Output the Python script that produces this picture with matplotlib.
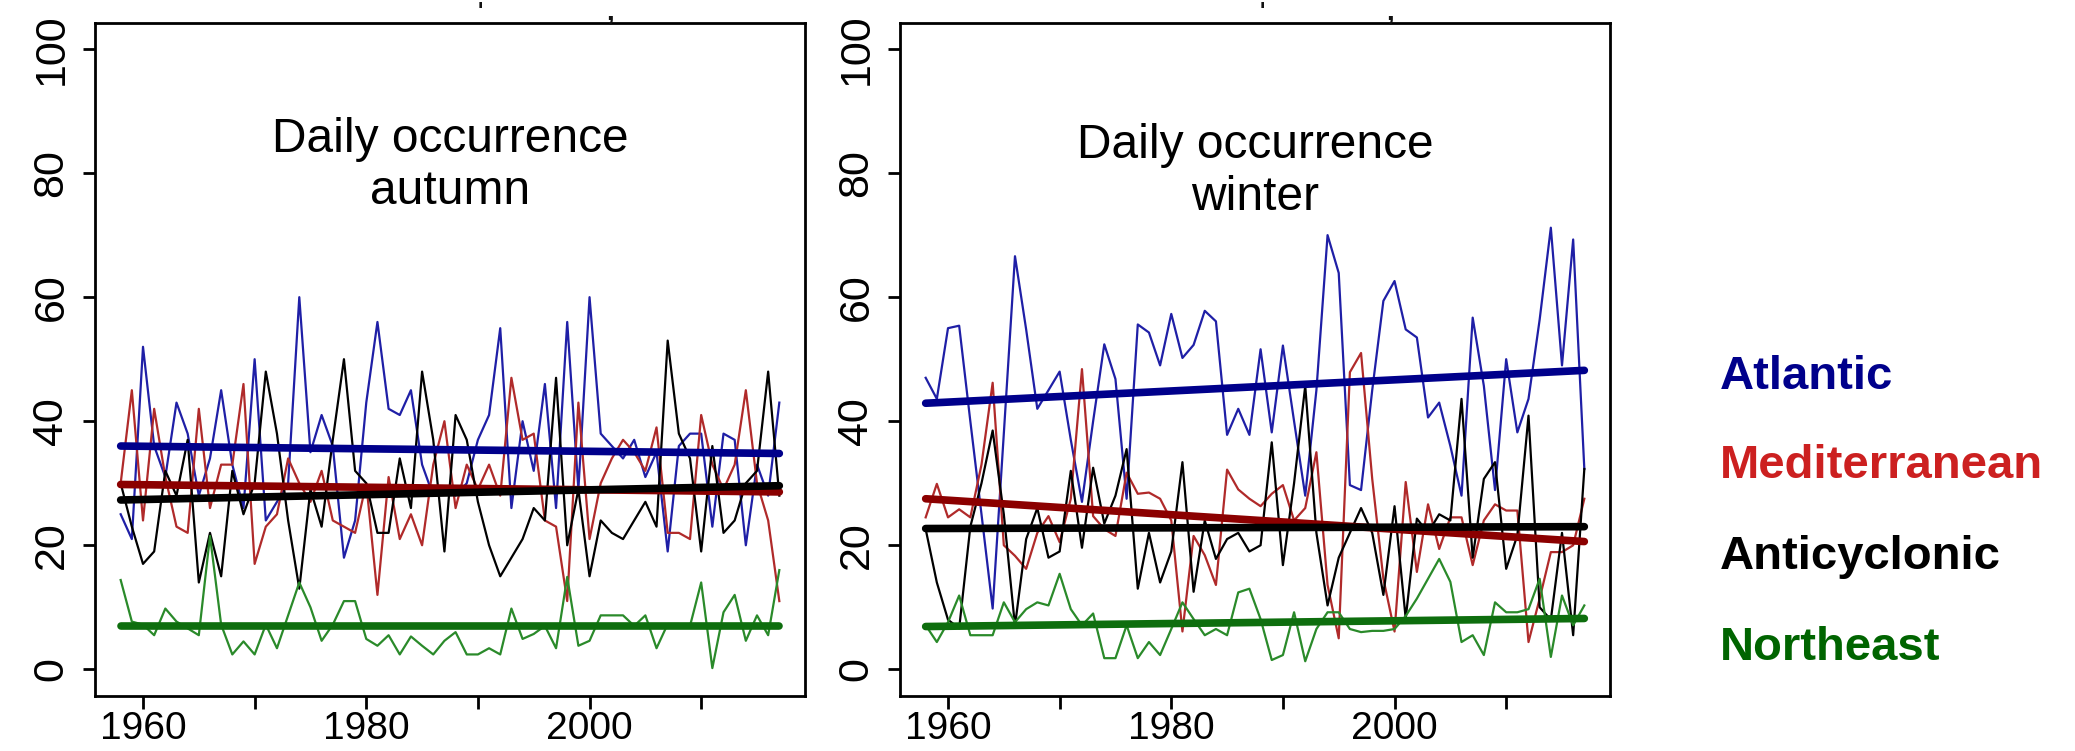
import matplotlib
matplotlib.use("Agg")
import matplotlib.pyplot as plt

plt.rcParams['font.family'] = ['Liberation Sans', 'DejaVu Sans']

# ---------------- data ----------------
years = list(range(1958, 2018))
series_names = ["Atlantic", "Mediterranean", "Anticyclonic", "Northeast"]

autumn_atlantic = [25, 21, 52, 36, 31, 43, 38, 28, 34, 45,
                   33, 26, 50, 24, 27, 30, 60, 35, 41, 36,
                   18, 24, 43, 56, 42, 41, 45, 33, 28, 29,
                   28, 30, 37, 41, 55, 26, 40, 32, 46, 26,
                   56, 29, 60, 38, 36, 34, 37, 31, 35, 19,
                   36, 38, 38, 23, 38, 37, 20, 33, 28, 43]
autumn_mediterranean = [30, 45, 24, 42, 31, 23, 22, 42, 26, 33,
                        33, 46, 17, 23, 25, 34, 30, 27, 32, 24,
                        23, 22, 30, 12, 31, 21, 25, 20, 33, 40,
                        26, 33, 29, 33, 28, 47, 37, 38, 24, 23,
                        11, 43, 21, 30, 34, 37, 35, 32, 39, 22,
                        22, 21, 41, 33, 29, 33, 45, 30, 24, 11]
autumn_anticyclonic = [30, 23, 17, 19, 32, 28, 37, 14, 22, 15,
                       32, 25, 30, 48, 38, 24, 13, 29, 23, 37,
                       50, 32, 30, 22, 22, 34, 26, 48, 37, 19,
                       41, 37, 27, 20, 15, 18, 21, 26, 24, 47,
                       20, 29, 15, 24, 22, 21, 24, 27, 23, 53,
                       38, 34, 19, 36, 22, 24, 30, 32, 48, 28]
autumn_northeast = [14.4, 7.7, 7.2, 5.5, 9.8, 7.7, 6.6, 5.5, 21.5, 7.2,
                    2.4, 4.5, 2.4, 7.2, 3.4, 8.7, 14, 10, 4.6, 7.2,
                    11, 11, 4.9, 3.8, 5.5, 2.4, 5.3, 3.8, 2.4, 4.6,
                    6, 2.4, 2.4, 3.4, 2.4, 9.8, 4.9, 5.7, 7, 3.4,
                    14.9, 3.8, 4.6, 8.7, 8.7, 8.7, 7, 8.7, 3.4, 7.3,
                    7.3, 7, 14, 0.2, 9.2, 12, 4.6, 8.7, 5.5, 16]

winter_atlantic = [47, 43.6, 55, 55.4, 40, 25, 9.8, 38, 66.6, 54.8,
                   42, 45, 48, 37, 27, 40, 52.4, 46.8, 27.5, 55.6,
                   54.3, 49, 57.3, 50.2, 52.3, 57.8, 56.1, 37.8, 42, 37.8,
                   51.6, 38.2, 52.2, 40, 28, 45, 70, 63.9, 29.7, 28.9,
                   45, 59.4, 62.6, 54.8, 53.5, 40.6, 43, 36, 28, 56.7,
                   45.7, 28.9, 50, 38.2, 43.6, 56.4, 71.2, 49, 69.3, 32.3]
winter_mediterranean = [24.5, 29.9, 24.5, 25.8, 24.5, 33, 46.2, 20, 18.3, 16.2,
                        22, 24.7, 20.5, 27.5, 48.4, 24.7, 22.6, 21.5, 31.7, 28.3,
                        28.5, 27.5, 24, 6.1, 21.5, 18.4, 13.6, 32.2, 29, 27.5,
                        26.3, 28.3, 29.7, 24, 26, 35, 13.6, 5, 47.9, 51,
                        30.7, 14.6, 6.1, 30.2, 15.7, 26.6, 19.4, 24.5, 24.5, 16.8,
                        24, 26.6, 25.6, 25.6, 4.4, 11.4, 18.9, 18.9, 20, 27.5]
winter_anticyclonic = [22.6, 14, 8, 6.6, 23, 30, 38.5, 25, 7, 21,
                       26, 18, 19, 32, 19.6, 32.5, 23.5, 28, 35.5, 13,
                       22, 14, 19, 33.4, 12.5, 24, 17.8, 21, 22, 19,
                       20, 36.6, 16.8, 30, 45.7, 22, 10.3, 18, 22, 26,
                       22, 12, 26.3, 8.2, 24.3, 22, 25, 24, 43.6, 18,
                       30.7, 33.4, 16.2, 21.6, 40.9, 10, 8, 22, 5.5, 32.3]
winter_northeast = [7.1, 4.4, 7.6, 11.9, 5.5, 5.5, 5.5, 10.8, 7.6, 9.7,
                    10.8, 10.3, 15.4, 9.7, 7.1, 9, 1.8, 1.8, 7.1, 1.8,
                    4.4, 2.3, 6.5, 10.8, 8.1, 5.5, 6.5, 5.5, 12.4, 13,
                    8.1, 1.5, 2.3, 9.2, 1.3, 6.5, 9.2, 9.2, 6.5, 6,
                    6.2, 6.2, 6.5, 8.6, 11.4, 14.6, 17.8, 14.1, 4.4, 5.5,
                    2.3, 10.8, 9.2, 9.2, 9.7, 14.6, 2.0, 11.9, 7.1, 10.3]

# linear trend lines: value at first and last year
autumn_trend_start = [36.0, 29.8, 27.3, 7.0]
autumn_trend_end = [34.8, 28.6, 29.6, 7.0]
winter_trend_start = [42.9, 27.5, 22.7, 6.9]
winter_trend_end = [48.2, 20.6, 23.0, 8.2]

panel_titles = ["Daily occurrence\nautumn", "Daily occurrence\nwinter"]
xtick_values = [1960, 1970, 1980, 1990, 2000, 2010]
xtick_labels = ["1960", "", "1980", "", "2000", ""]
ytick_values = [0, 20, 40, 60, 80, 100]
ytick_labels = ["0", "20", "40", "60", "80", "100"]

# ---------------- styles ----------------
thin_colors = ["#1f1fa6", "#b02a2a", "#000000", "#2a8a2a"]
trend_colors = ["#00008b", "#8b0000", "#000000", "#0e6e0e"]
legend_colors = ["#00008b", "#cc2020", "#000000", "#006400"]

W, H = 2075, 751
fig = plt.figure(figsize=(W / 100, H / 100), dpi=100)


def px_axes(left, right, top, bottom):
    return fig.add_axes([left / W, 1 - bottom / H, (right - left) / W, (bottom - top) / H])


axes = [px_axes(95, 805, 23, 696), px_axes(900, 1610, 23, 696)]
panel_series = [
    [autumn_atlantic, autumn_mediterranean, autumn_anticyclonic, autumn_northeast],
    [winter_atlantic, winter_mediterranean, winter_anticyclonic, winter_northeast],
]
panel_trends = [
    (autumn_trend_start, autumn_trend_end),
    (winter_trend_start, winter_trend_end),
]
title_y = [81.3, 80.3]

for ax, series, (t0, t1), title, ty in zip(axes, panel_series, panel_trends, panel_titles, title_y):
    for vals, c in zip(series, thin_colors):
        ax.plot(years, vals, color=c, lw=1.6, zorder=2)
    for a, b, c in zip(t0, t1, trend_colors):
        ax.plot([years[0], years[-1]], [a, b], color=c, lw=5.5, solid_capstyle='round', zorder=3)
    ax.set_xlim(1955.7, 2019.3)
    ax.set_ylim(-4.3, 104.2)
    ax.set_xticks(xtick_values, xtick_labels, fontsize=28)
    ax.set_yticks(ytick_values, ytick_labels, fontsize=31, rotation=90, va='center')
    ax.tick_params(axis='both', length=9, width=2, direction='out', colors='black')
    ax.tick_params(axis='y', pad=8)
    ax.tick_params(axis='x', pad=2)
    for s in ax.spines.values():
        s.set_linewidth(2)
    ax.text(1987.5, ty, title, ha='center', va='center', fontsize=34.5, linespacing=1.2)

legend_baselines = [389, 478, 569, 660]
for name, c, yb in zip(series_names, legend_colors, legend_baselines):
    fig.text(1720 / W, 1 - yb / H, name, color=c, fontsize=34, fontweight='bold', va='baseline', ha='left')

# cut-off remnants of titles above the panels
for xp, mark, wt, fs in [(480, "'", 'bold', 16), (610, ",", 'bold', 20), (1262, "'", 'bold', 16), (1390, ",", 'bold', 20)]:
    fig.text(xp / W, 1 - 12 / H, mark, fontsize=fs, fontweight=wt, ha='center', va='center', color='#111111')

fig.savefig("out.png", dpi=100)
